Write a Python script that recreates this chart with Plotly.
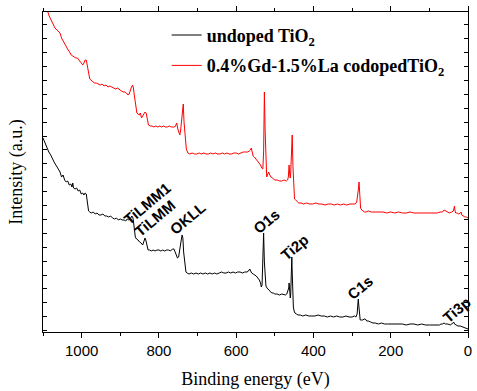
import plotly.graph_objects as go

# ---------------- data (binding energy in eV, intensity in a.u.) ----------------
be_undoped = [1100,1095,1090,1085,1080,1075,1070,1065,1060,1056,1052,1048,1044,1040,1036,1032,1028,1025,1023,1021,
              1017,1013,1009,1005,1001,997,994,991,988,985,982,979,975,970,965,960,955,950,945,940,935,930,925,920,
              915,910,905,900,895,890,886,882,878,874,870,867,864,861,858,854,850,846,842,839,836,834,831,828,824,820,
              815,810,805,800,795,790,785,780,775,770,765,761,758,755,752,749,746,743,740,738,736,733,730,727,722,716,
              710,704,698,692,686,680,674,668,662,656,650,644,638,632,626,620,614,608,602,596,590,584,578,572,568,565,
              563,560,556,552,548,544,540,537,535,533,531,529,527,525,523,520,516,512,508,504,500,494,488,482,476,472,
              469,466,464,463,462,461,460,459,458,457,456,455,454,452,450,448,444,440,434,428,420,412,404,396,388,380,
              372,364,356,348,340,332,324,316,308,300,294,290,287,285,284,283,281,279,276,272,269,266,262,258,252,246,
              240,232,224,216,208,200,190,180,170,160,150,140,130,120,110,100,90,80,74,70,66,62,58,52,46,42,39,37,35,
              31,26,20,14,8,0]
int_undoped = [194,189,186,180,177,172,169,166,162,160,155,157,152,150,151,147,148,145,149,144,
               143,144,141,142,138,139,137,139,138,130,121,120,119,120,118,119,117,117,118,116,116,115,116,114,
               113,114,112,113,112,112,111,113,112,113,116,114,106,95,93,92,90,89,87,90,94,92,85,82,82,81,
               82,81,82,82,81,82,81,82,82,81,83,83,80,77,74,75,81,90,97,94,80,66,60,59,58,59,
               58,59,58,59,58,59,58,59,58,59,58,59,60,59,59,60,59,60,59,60,60,59,60,60,61,63,
               61,59,58,57,56,54,52,49,45,47,70,99,70,50,46,44,42,40,39,39,38,38,37,38,37,37,
               38,41,44,49,45,35,34,37,50,65,75,60,40,25,21,19,18,17,17,16,17,16,16,16,17,16,
               16,15,16,15,16,15,15,16,15,15,16,15,18,28,33,28,16,12,12,12,13,13,11,11,10,9,
               9,8,9,8,8,8,8,8,8,7,8,8,7,8,7,7,7,7,7,8,8,9,8,8,7,8,10,10,8,
               7,6,6,5,4,3]

be_codoped = [1100,1094,1089,1084,1079,1074,1069,1064,1060,1056,1052,1048,1044,1040,1035,1031,1027,1023,1019,1015,
              1011,1007,1003,999,997,994,991,988,985,982,979,976,972,967,962,957,952,947,942,937,932,927,922,917,
              912,907,902,897,892,888,884,880,877,874,871,868,866,863,860,857,854,851,848,845,842,839,836,833,830,827,
              823,818,813,808,803,798,793,788,783,778,773,768,763,759,756,754,751,748,746,744,741,739,737,735,732,729,
              725,720,714,708,702,696,690,684,678,672,666,660,654,648,642,636,630,624,618,612,606,600,594,588,582,576,
              570,566,563,561,559,556,553,549,545,541,537,534,531,529,527,525,523,521,519,516,513,510,506,500,494,488,
              482,476,470,467,465,464,463,462,461,460,459,458,457,455,453,451,449,446,442,438,432,426,418,410,402,394,
              386,378,370,362,354,346,338,330,322,314,306,298,292,288,286,284,282,280,278,275,271,268,264,258,250,240,
              230,220,210,200,190,180,170,160,150,140,130,120,110,100,90,80,72,66,62,58,54,48,42,38,36,35,34,32,28,24,
              20,18,16,12,8,4,0]
int_codoped = [335,327,320,316,312,308,304,302,300,299,294,291,289,286,282,280,277,276,275,274,
               274,272,271,268,267,269,272,272,266,258,253,252,251,249,249,248,247,248,246,247,245,246,245,244,
               243,244,242,241,240,240,239,237,238,242,245,247,244,235,225,219,218,217,219,214,216,218,220,219,211,207,
               206,206,205,206,205,206,205,206,205,205,206,205,205,205,207,209,203,199,197,201,215,225,228,210,192,183,
               179,178,179,178,178,179,178,179,178,178,179,178,179,178,178,179,178,179,178,178,179,179,178,179,180,180,
               180,181,182,184,179,176,175,173,171,169,167,164,163,180,240,200,160,155,157,160,157,155,154,152,152,151,
               151,152,151,152,155,160,167,160,155,154,158,170,185,197,165,135,133,132,130,129,129,128,129,128,128,129,
               128,128,127,128,128,127,128,127,128,127,128,128,128,130,135,142,150,138,124,122,121,120,120,121,120,120,
               120,120,119,120,119,120,119,119,120,119,119,119,119,119,119,119,120,120,122,121,120,119,120,121,124,126,122,119,119,118,
               119,120,117,116,115,115,114]

series_names = ["undoped TiO<sub>2</sub>", "0.4%Gd-1.5%La codopedTiO<sub>2</sub>"]
series_colors = ["#000000", "#ff0000"]

peak_labels = ["TiLMM1", "TiLMM", "OKLL", "O1s", "Ti2p", "C1s", "Ti3p"]
label_be = [831, 812, 727, 523, 450, 280, 29]
label_int = [129, 114, 114, 111, 85, 45, 23]

x_ticks = [1000, 800, 600, 400, 200, 0]

SERIF = "Times New Roman, Liberation Serif, serif"
SANS = "Arial, Liberation Sans, sans-serif"

# ---------------- figure ----------------
fig = go.Figure()
fig.add_trace(go.Scatter(x=be_undoped, y=int_undoped, mode="lines", name=series_names[0],
                         line=dict(color=series_colors[0], width=1), legendgroup="a"))
fig.add_trace(go.Scatter(x=be_codoped, y=int_codoped, mode="lines", name=series_names[1],
                         line=dict(color=series_colors[1], width=1), legendgroup="b"))

for t, xv, yv in zip(peak_labels, label_be, label_int):
    fig.add_annotation(x=xv, y=yv, xref="x", yref="y", text=t, showarrow=False,
                       textangle=-40, xanchor="center", yanchor="middle",
                       font=dict(family=SANS, size=15, color="black", weight="bold"))

fig.update_xaxes(range=[1100, 0], tickvals=x_ticks, ticks="outside", ticklen=5, tickwidth=1,
                 tickcolor="black", showline=True, linecolor="black", linewidth=1, mirror="allticks",
                 showgrid=False, zeroline=False,
                 minor=dict(dtick=100, tick0=0, ticks="outside", ticklen=3, tickcolor="black", showgrid=False),
                 tickfont=dict(family=SANS, size=15, color="black"),
                 title=dict(text="Binding energy (eV)", standoff=14,
                            font=dict(family=SERIF, size=18, color="black")))
fig.update_yaxes(range=[0, 320], tick0=15.3, dtick=13.9, ticks="inside", ticklen=4, tickwidth=1,
                 tickcolor="black", showline=True, linecolor="black", linewidth=1, mirror="allticks",
                 showticklabels=False, showgrid=False, zeroline=False,
                 title=dict(text="Intensity (a.u.)", standoff=14,
                            font=dict(family=SERIF, size=18, color="black")))

fig.update_layout(
    width=477, height=391,
    margin=dict(l=43, r=5, t=12, b=59),
    plot_bgcolor="white", paper_bgcolor="white",
    showlegend=True,
    legend=dict(x=0.291, y=0.985, xanchor="left", yanchor="top", bgcolor="rgba(0,0,0,0)",
                tracegroupgap=4,
                font=dict(family=SERIF, size=18, color="black", weight="bold")),
)

fig.write_html("out.html", config={"displayModeBar": False},
               post_script="document.body.style.margin='0';document.body.style.overflow='hidden';")
